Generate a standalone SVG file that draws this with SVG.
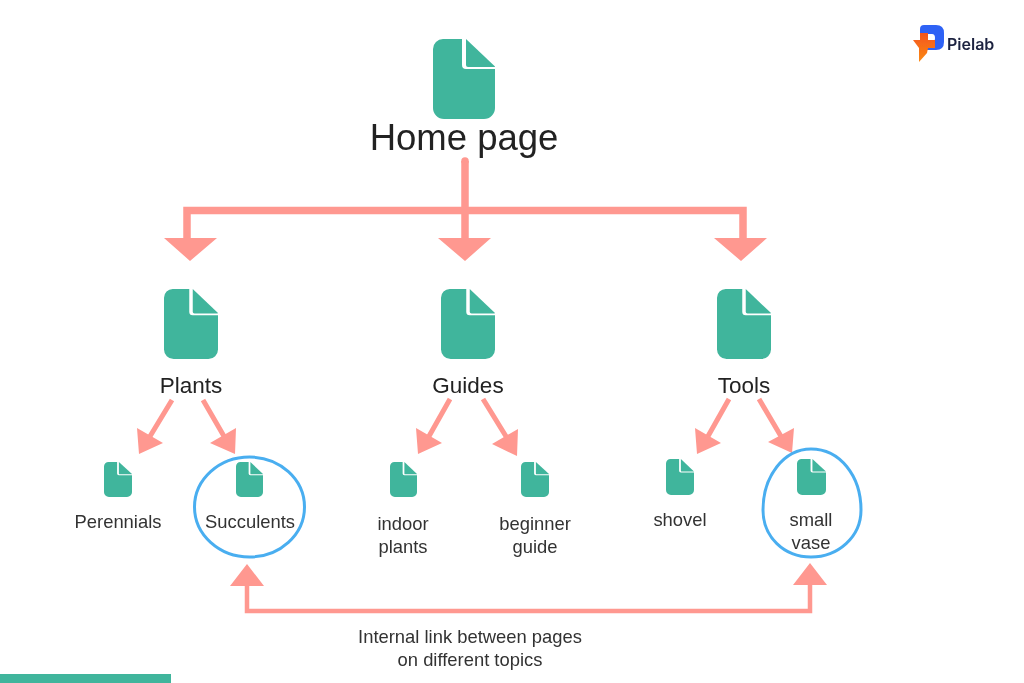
<svg xmlns="http://www.w3.org/2000/svg" width="1024" height="683" viewBox="0 0 1024 683">
<style>
text{font-family:"Liberation Sans",Arial,sans-serif;fill:#222;text-anchor:middle}
.doc{fill:#41b59c}
.l{font-size:22.5px}
.s{font-size:18.400px;fill:#333}
.n{font-size:18.400px;fill:#333}
.line{fill:none;stroke:#ff9890;stroke-linecap:butt;stroke-linejoin:miter}
.head{fill:#ff9890}
.ring{fill:none;stroke:#4aaef0;stroke-width:3}
</style>
<defs>
<filter id="soft" x="-5%" y="-5%" width="110%" height="110%"><feGaussianBlur stdDeviation="0.6"/></filter>
<linearGradient id="orange" x1="0" y1="0" x2="0" y2="1"><stop offset="0" stop-color="#f4551f"/><stop offset="1" stop-color="#fb8a12"/></linearGradient>
<symbol id="doc" viewBox="0 0 62 80" preserveAspectRatio="none">
<path d="M10,0H29V26Q29,30 33,30H62V69A11,11 0 0 1 51,80H11A11,11 0 0 1 0,69V10A10,10 0 0 1 10,0Z"/>
<path d="M33,0L62,27.500Q62,28 61,28H35Q33,28 33,26Z"/>
</symbol>
</defs>
<rect width="1024" height="683" fill="#fff"/>
<g filter="url(#soft)">
<rect id="footer-bar" x="0" y="674" width="171" height="9" fill="#41b59c"/>
<g id="connectors">
<path class="line" stroke-width="7.500" d="M465,161V240M187,240V210.500H743V240"/>
<circle class="head" cx="465" cy="161" r="3.750"/>
<path class="head" d="M164,238H217L190,261ZM438,238H491L465,261ZM714,238H767L741,261Z"/>
<path class="line" stroke-width="5" d="M172,400L149,438M203,400L225,438M450,399L428,438M483,399L507,438M729,399L707,438M759,399L782,438"/>
<path class="head" d="M139,454L137,428L163,443ZM235,454L236,428L210,443ZM418,454L416,428L442,443ZM517,456L518,429L492,444ZM697,454L695,428L721,443ZM792,453L794,428L768,442Z"/>
<path class="line" stroke-width="4.500" d="M247,584V611H810V584"/>
<path class="head" d="M247,564L264,586H230ZM810,563L827,585H793Z"/>
</g>
<g id="home-page"><use href="#doc" class="doc" x="433" y="39" width="62" height="80"/><text x="464" y="150" style="font-size:36.500px">Home page</text></g>
<g id="plants"><use href="#doc" class="doc" x="164" y="289" width="54" height="70"/><text class="l" x="191" y="393">Plants</text></g>
<g id="guides"><use href="#doc" class="doc" x="441" y="289" width="54" height="70"/><text class="l" x="468" y="393">Guides</text></g>
<g id="tools"><use href="#doc" class="doc" x="717" y="289" width="54" height="70"/><text class="l" x="744" y="393">Tools</text></g>
<g id="perennials"><use href="#doc" class="doc" x="104" y="462" width="28" height="35"/><text class="s" x="118" y="528">Perennials</text></g>
<g id="succulents"><ellipse class="ring" cx="249.500" cy="507" rx="55" ry="50"/><use href="#doc" class="doc" x="236" y="462" width="27" height="35"/><text class="s" x="250" y="528">Succulents</text></g>
<g id="indoor-plants"><use href="#doc" class="doc" x="390" y="462" width="27" height="35"/><text class="s" x="403" y="530">indoor</text><text class="s" x="403" y="553">plants</text></g>
<g id="beginner-guide"><use href="#doc" class="doc" x="521" y="462" width="28" height="35"/><text class="s" x="535" y="530">beginner</text><text class="s" x="535" y="553">guide</text></g>
<g id="shovel"><use href="#doc" class="doc" x="666" y="459" width="28" height="36"/><text class="s" x="680" y="526">shovel</text></g>
<g id="small-vase"><path class="ring" d="M811,449C840,449 861,476 861,510C861,537 838,557 811,557C784,557 763,537 763,510C763,476 784,449 811,449Z"/><use href="#doc" class="doc" x="797" y="459" width="29" height="36"/><text class="s" x="811" y="526">small</text><text class="s" x="811" y="549">vase</text></g>
<g id="link-note"><text class="n" x="470" y="643">Internal link between pages</text><text class="n" x="470" y="666">on different topics</text></g>
<g id="logo">
<path d="M924,25H936Q944,25 944,33V42Q944,50 936,50H927V42H932Q935,42 935,38Q935,34 932,34H920V29Q920,25 924,25Z" fill="#2f62f5"/>
<path d="M920,33H928V40H935V48H928L927,53L919,62V48L913,40H920Z" fill="url(#orange)"/>
<text x="947" y="50" style="font-family:Inter,'Liberation Sans',sans-serif;font-size:16px;font-weight:600;fill:#1d2340;text-anchor:start">Pielab</text>
</g>
</g>
</svg>
